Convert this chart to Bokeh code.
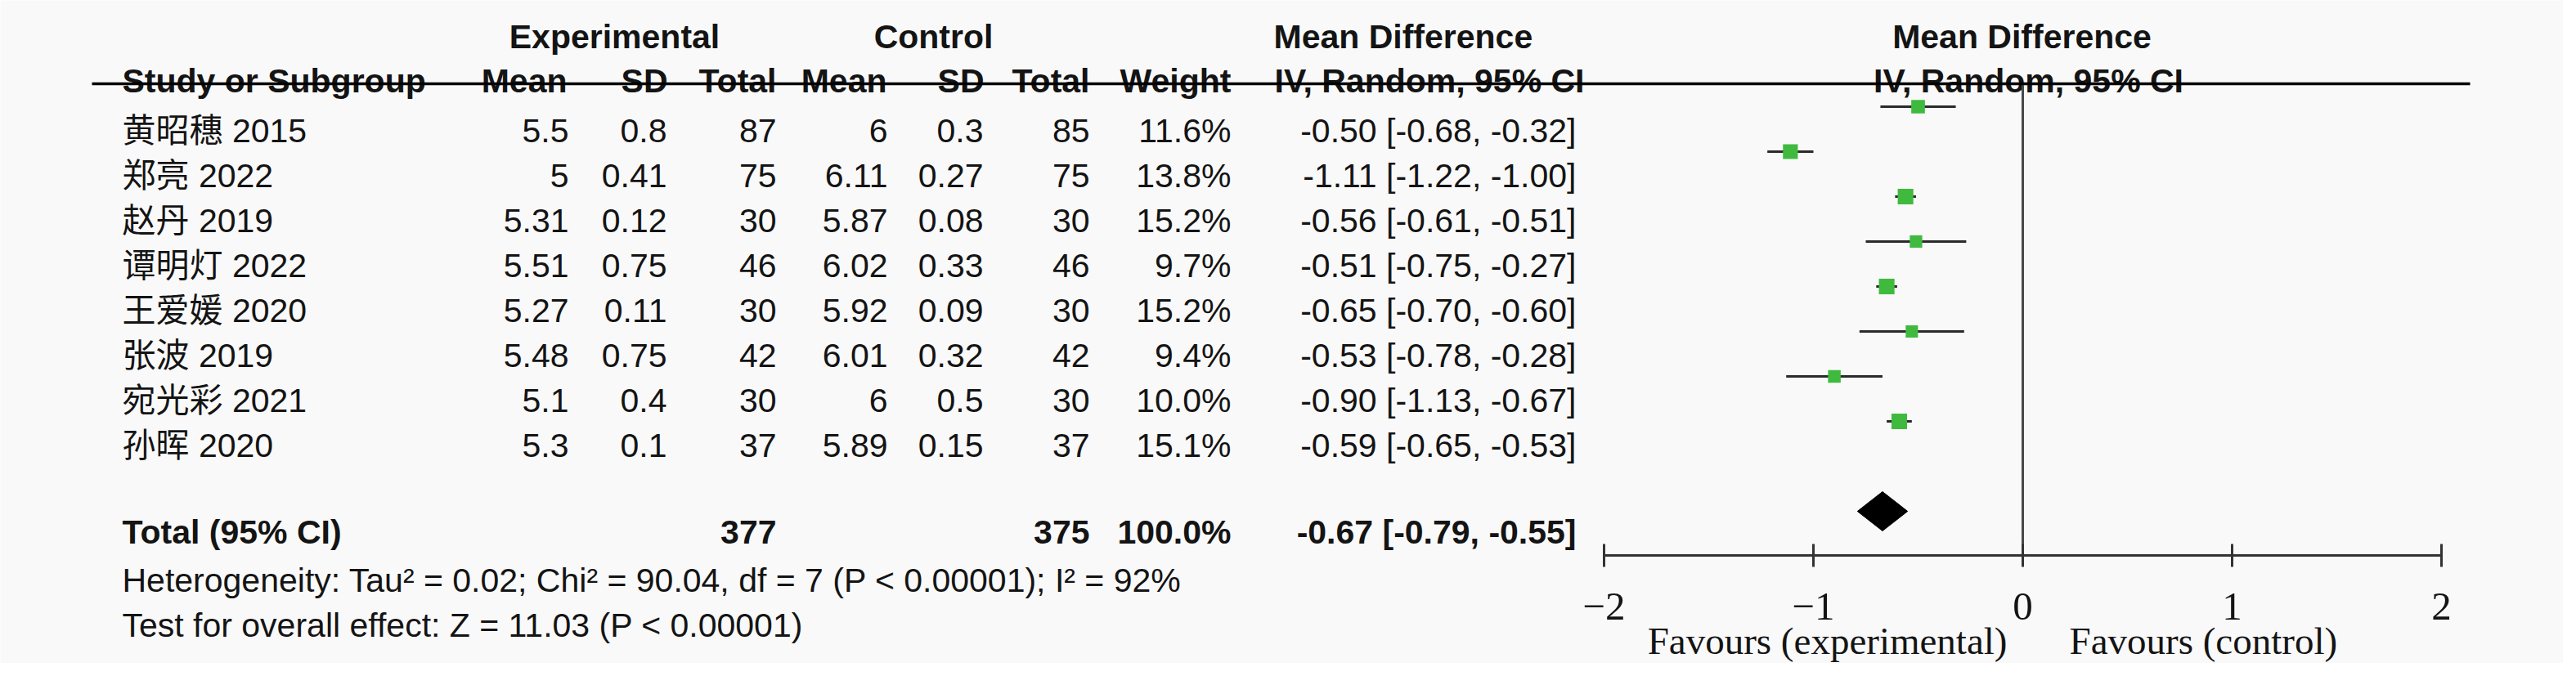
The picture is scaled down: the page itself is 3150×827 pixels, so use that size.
from bokeh.plotting import figure
from bokeh.models import ColumnDataSource, Range1d
from bokeh.core.properties import value
from bokeh.embed import file_html
from bokeh.resources import INLINE

# ---------------- data ----------------
studies = ["黄昭穗 2015", "郑亮 2022", "赵丹 2019", "谭明灯 2022",
           "王爱媛 2020", "张波 2019", "宛光彩 2021", "孙晖 2020"]
exp_mean = [5.5, 5, 5.31, 5.51, 5.27, 5.48, 5.1, 5.3]
exp_sd = [0.8, 0.41, 0.12, 0.75, 0.11, 0.75, 0.4, 0.1]
exp_n = [87, 75, 30, 46, 30, 42, 30, 37]
ctl_mean = [6, 6.11, 5.87, 6.02, 5.92, 6.01, 6, 5.89]
ctl_sd = [0.3, 0.27, 0.08, 0.33, 0.09, 0.32, 0.5, 0.15]
ctl_n = [85, 75, 30, 46, 30, 42, 30, 37]
weight = [11.6, 13.8, 15.2, 9.7, 15.2, 9.4, 10.0, 15.1]
md = [-0.50, -1.11, -0.56, -0.51, -0.65, -0.53, -0.90, -0.59]
ci_lo = [-0.68, -1.22, -0.61, -0.75, -0.70, -0.78, -1.13, -0.65]
ci_hi = [-0.32, -1.00, -0.51, -0.27, -0.60, -0.28, -0.67, -0.53]
total_exp_n = 377
total_ctl_n = 375
total_weight = 100.0
total_md = -0.67
total_lo = -0.79
total_hi = -0.55
tick_values = [-2, -1, 0, 1, 2]
tick_labels = ["−2", "−1", "0", "1", "2"]
heterogeneity_text = "Heterogeneity: Tau² = 0.02; Chi² = 90.04, df = 7 (P < 0.00001); I² = 92%"
overall_text = "Test for overall effect: Z = 11.03 (P < 0.00001)"
favours_left = "Favours (experimental)"
favours_right = "Favours (control)"

# ---------------- layout (page pixels, page has an 8px margin) ----------------
M = 8
W, H = 3134, 811
AXIS_Y = 687
ZERO_PX = 2481
PX_PER_UNIT = 256
ROW0_TEXT = 167
ROW0_MARK = 138
ROW_STEP = 55
TOTAL_TEXT = 658
TOTAL_MARK = 633
SANS = "Liberation Sans, Noto Sans CJK SC"
SERIF = "Liberation Serif"
FS = "41px"
FSB = "41px"
TXT = "#141414"
BG = "#f9f9f9"

p = figure(width=W, height=H, output_backend="svg", toolbar_location=None,
           x_axis_type=None, y_axis_type=None,
           x_range=Range1d(M, M + W), y_range=Range1d(M + H, M),
           min_border=0,
           background_fill_color=BG, border_fill_color=BG,
           outline_line_color=None)
p.extra_x_ranges = {"md": Range1d((M - ZERO_PX) / PX_PER_UNIT, (M + W - ZERO_PX) / PX_PER_UNIT)}


def col(texts, x, ys, align, bold=False, font=SANS, size=None, x_range_name="default"):
    xs = x if isinstance(x, list) else [x] * len(texts)
    src = ColumnDataSource(dict(x=xs, y=ys, t=texts))
    p.text(x="x", y="y", text="t", source=src, text_align=align,
           text_baseline="alphabetic", text_font=value(font),
           text_font_size=size or (FSB if bold else FS),
           text_font_style="bold" if bold else "normal", text_color=TXT,
           x_range_name=x_range_name)


n = len(studies)
row_y = [ROW0_TEXT + ROW_STEP * i for i in range(n)]
mark_y = [ROW0_MARK + ROW_STEP * i for i in range(n)]

# headers
H1, H2 = 52, 106
col(["Experimental"], 759, [H1], "center", True)
col(["Control"], 1149, [H1], "center", True)
col(["Mean Difference"], 1565, [H1], "left", True)
col(["Mean Difference"], 2480, [H1], "center", True)
col(["Study or Subgroup"], 157, [H2], "left", True)
col(["Mean"], 701, [H2], "right", True)
col(["SD"], 824, [H2], "right", True)
col(["Total"], 957, [H2], "right", True)
col(["Mean"], 1092, [H2], "right", True)
col(["SD"], 1211, [H2], "right", True)
col(["Total"], 1340, [H2], "right", True)
col(["Weight"], 1513, [H2], "right", True)
col(["IV, Random, 95% CI"], 1566, [H2], "left", True)
col(["IV, Random, 95% CI"], 2488, [H2], "center", True)

# header rule
p.segment(x0=[120], x1=[3028], y0=[110], y1=[110], line_color="#000000", line_width=3.5)

# study rows
col(studies, 157, row_y, "left")
col([f"{v:g}" for v in exp_mean], 703, row_y, "right")
col([f"{v:g}" for v in exp_sd], 823, row_y, "right")
col([str(v) for v in exp_n], 957, row_y, "right")
col([f"{v:g}" for v in ctl_mean], 1093, row_y, "right")
col([f"{v:g}" for v in ctl_sd], 1210, row_y, "right")
col([str(v) for v in ctl_n], 1340, row_y, "right")
col([f"{v:.1f}%" for v in weight], 1513, row_y, "right")
col([f"{m:.2f} [{l:.2f}, {h:.2f}]" for m, l, h in zip(md, ci_lo, ci_hi)], 1935, row_y, "right")

# total row
col(["Total (95% CI)"], 157, [TOTAL_TEXT], "left", True)
col([str(total_exp_n)], 957, [TOTAL_TEXT], "right", True)
col([str(total_ctl_n)], 1340, [TOTAL_TEXT], "right", True)
col([f"{total_weight:.1f}%"], 1513, [TOTAL_TEXT], "right", True)
col([f"{total_md:.2f} [{total_lo:.2f}, {total_hi:.2f}]"], 1935, [TOTAL_TEXT], "right", True)

# footnotes
col([heterogeneity_text], 157, [717], "left")
col([overall_text], 157, [772], "left")

# zero line
p.segment(x0=[0], x1=[0], y0=[112], y1=[AXIS_Y], x_range_name="md",
          line_color="#4a4a4a", line_width=3)

# CIs and squares
fsrc = ColumnDataSource(dict(md=md, lo=ci_lo, hi=ci_hi, y=mark_y,
                             s=[4.9 * (w ** 0.5) for w in weight]))
p.segment(x0="lo", x1="hi", y0="y", y1="y", source=fsrc, x_range_name="md",
          line_color="#2a2a2a", line_width=3)
p.scatter(x="md", y="y", size="s", marker="square", source=fsrc, x_range_name="md",
          fill_color="#3fba3f", line_color=None)

# pooled diamond
p.patch(x=[total_lo, total_md, total_hi, total_md],
        y=[TOTAL_MARK, TOTAL_MARK - 24, TOTAL_MARK, TOTAL_MARK + 24],
        x_range_name="md", fill_color="#000000", line_color="#000000", line_width=1)

# effect axis (drawn on the MD scale)
p.segment(x0=[tick_values[0]], x1=[tick_values[-1]], y0=[AXIS_Y], y1=[AXIS_Y],
          x_range_name="md", line_color="#333333", line_width=3)
p.segment(x0=tick_values, x1=tick_values, y0=[AXIS_Y - 14] * len(tick_values),
          y1=[AXIS_Y + 14] * len(tick_values), x_range_name="md",
          line_color="#333333", line_width=3)
col(tick_labels, list(tick_values), [749] * len(tick_values), "center",
    font=SERIF, size="49px", x_range_name="md")

# favours labels
col([favours_left], 2462, [791], "right", font=SERIF, size="47px")
col([favours_right], 2538, [791], "left", font=SERIF, size="47px")

open("out.html", "w").write(file_html(p, INLINE))
